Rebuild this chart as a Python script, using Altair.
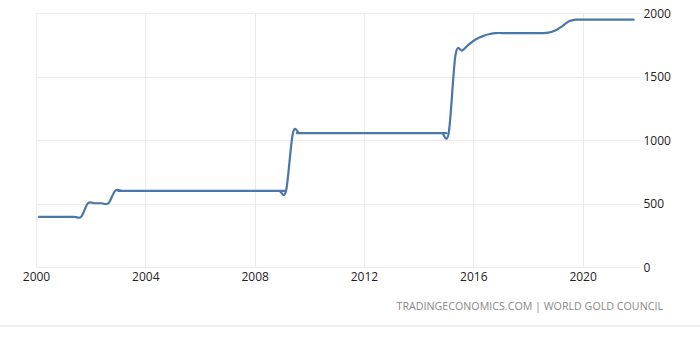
import altair as alt
import pandas as pd

# decimal year positions and gold reserves (tonnes)
years = [2000.08, 2001.0, 2001.4, 2001.65, 2001.9, 2002.15, 2002.4, 2002.65, 2002.9,
         2003.15, 2003.5, 2008.65, 2008.9, 2009.15, 2009.4, 2009.65, 2010.0,
         2014.6, 2014.85, 2015.1, 2015.35, 2015.6, 2015.85, 2016.1, 2016.35, 2016.6,
         2016.85, 2017.1, 2018.25, 2018.5, 2018.75, 2019.0, 2019.25, 2019.5, 2019.75,
         2020.0, 2021.9]
reserves = [395, 395, 395, 395, 502, 502, 502, 502, 600,
            600, 600, 600, 600, 600, 1054, 1054, 1054,
            1054, 1054, 1054, 1670, 1705, 1755, 1793, 1818, 1835,
            1842, 1842, 1842, 1842, 1845, 1862, 1895, 1935, 1948,
            1948, 1948]
x_ticks = [2000, 2004, 2008, 2012, 2016, 2020]
y_ticks = [0, 500, 1000, 1500, 2000]
source_text = "TRADINGECONOMICS.COM | WORLD GOLD COUNCIL"

df = pd.DataFrame({"year": years, "value": reserves})

FONT = "Open Sans"

line = alt.Chart(df).mark_line(
    interpolate="cardinal", color="#4a76aa", strokeWidth=2.2
).encode(
    x=alt.X("year:Q",
            scale=alt.Scale(domain=[2000, 2022.1], nice=False, zero=False),
            axis=alt.Axis(values=x_ticks, format="d", title=None, domain=False,
                          ticks=False, labelPadding=4, labelFontSize=12,
                          labelColor="#222222", labelFont=FONT, grid=True,
                          gridColor="#ececec", labelFlush=False)),
    y=alt.Y("value:Q",
            scale=alt.Scale(domain=[0, 2000], nice=False),
            axis=alt.Axis(values=y_ticks, format="d", orient="right", title=None,
                          domain=False, ticks=False, labelPadding=3, labelFontSize=12,
                          labelColor="#222222", labelFont=FONT, grid=True,
                          gridColor="#ececec", labelAlign="left"))
)

footer = alt.Chart(pd.DataFrame({"t": [source_text]})).mark_text(
    align="right", baseline="middle", fontSize=10.7, font=FONT, color="#888888"
).encode(text="t:N", x=alt.value(627), y=alt.value(294))

bottom_rule = alt.Chart(pd.DataFrame({"a": [0]})).mark_rule(
    color="#f0f0f0", strokeWidth=2
).encode(x=alt.value(-36), x2=alt.value(664), y=alt.value(313))

chart = alt.layer(line, footer, bottom_rule).properties(
    width=604, height=254,
    background="white",
    autosize=alt.AutoSizeParams(type="none"),
    padding={"left": 36, "top": 13, "right": 60, "bottom": 75},
).configure_view(stroke=None)

chart.save("out.html", embed_options={"renderer": "svg", "actions": False})
